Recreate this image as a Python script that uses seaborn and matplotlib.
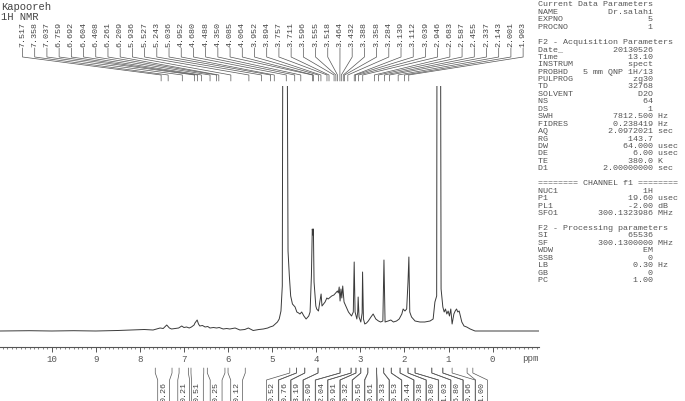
import numpy as np
import pandas as pd
import matplotlib
matplotlib.use("Agg")
import matplotlib.pyplot as plt
import seaborn as sns
from matplotlib.ticker import MultipleLocator
from matplotlib.transforms import blended_transform_factory

# spectrum trace (ppm, intensity)
spec_ppm = [11.17, 10.5, 10.0, 9.5, 9.0, 8.5, 8.2, 7.9, 7.7, 7.62, 7.54, 7.47, 7.39, 7.33, 7.28, 7.20,
            7.12, 7.05, 7.00, 6.94, 6.88, 6.83, 6.77, 6.75, 6.70, 6.67, 6.64, 6.58, 6.52, 6.46, 6.41,
            6.33, 6.26, 6.20, 6.11, 6.03, 5.96, 5.84, 5.73, 5.62, 5.54, 5.43, 5.30, 5.20, 5.10, 5.05,
            4.98, 4.93, 4.88, 4.84, 4.80, 4.77, 4.745, 4.685, 4.64, 4.61, 4.58, 4.54, 4.48, 4.44, 4.40,
            4.37, 4.33, 4.28, 4.23, 4.17, 4.14, 4.11, 4.09, 4.075, 4.065, 4.05, 4.01, 3.99, 3.95, 3.92,
            3.89, 3.87, 3.80, 3.76, 3.73, 3.65, 3.60, 3.58, 3.52, 3.50, 3.48, 3.46, 3.44, 3.42, 3.40,
            3.37, 3.33, 3.27, 3.20, 3.16, 3.14, 3.12, 3.08, 3.06, 3.05, 3.03, 2.99, 2.96, 2.95, 2.93,
            2.90, 2.86, 2.82, 2.76, 2.71, 2.65, 2.59, 2.54, 2.49, 2.465, 2.44, 2.37, 2.31, 2.25, 2.18,
            2.12, 2.06, 2.03, 1.99, 1.95, 1.92, 1.90, 1.88, 1.84, 1.76, 1.65, 1.54, 1.42, 1.35, 1.31,
            1.27, 1.255, 1.195, 1.17, 1.13, 1.10, 1.07, 1.04, 1.01, 0.98, 0.95, 0.92, 0.88, 0.85, 0.82,
            0.79, 0.76, 0.70, 0.65, 0.59, 0.51, 0.40, 0.0, -0.5, -1.05]
spec_int = [0, 0.3, 0, 0.3, 0, 0.5, 1, 1.5, 1, 2, 3, 2.5, 6, 3, 2, 2.5,
            3, 5, 3.5, 4, 3, 4, 6, 8, 11, 7, 5, 5.5, 4, 4.5, 3,
            3.5, 3, 3.5, 2, 2.5, 2, 3, 1, 1.5, 3, 0.5, 1.5, 2, 3, 4,
            5, 7, 9, 12, 20, 45, 600, 600, 80, 55, 35, 27, 24, 19, 18,
            17, 19, 15, 12, 15, 19, 55, 102, 96, 102, 49, 25, 22, 20, 29,
            37, 25, 29, 33, 32, 35, 36, 37, 40, 38, 44, 30, 42, 33, 45,
            29, 25, 19, 15, 19, 69, 19, 12, 19, 34, 14, 9, 18, 59, 12,
            7, 8, 10, 14, 17, 12, 10, 9, 10, 71, 9, 10, 11, 9, 10,
            12, 17, 22, 20, 22, 49, 74, 19, 14, 10, 9, 9, 10, 12, 29,
            35, 600, 600, 42, 24, 19, 22, 17, 20, 15, 22, 7, 17, 20, 22,
            19, 20, 9, 5, 4, 2, 0, 0, 0, 0]

# picked peaks
peak_ppm = [7.517, 7.358, 7.037, 6.759, 6.692, 6.604, 6.408, 6.261, 6.209, 5.936, 5.527, 5.243,
            5.036, 4.952, 4.680, 4.488, 4.350, 4.085, 4.064, 3.952, 3.894, 3.757, 3.711, 3.596,
            3.555, 3.518, 3.464, 3.432, 3.388, 3.358, 3.284, 3.139, 3.112, 3.039, 2.946, 2.683,
            2.587, 2.455, 2.337, 2.143, 2.001, 1.903]

# integral regions
int_start = [7.65, 7.11, 6.84, 6.47, 6.00, 4.60, 4.45, 4.26, 3.96, 3.46, 3.21, 3.10, 2.99,
             2.83, 2.63, 2.47, 2.30, 2.10, 1.92, 1.76, 1.38, 1.13, 0.58]
int_end = [7.27, 6.90, 6.55, 6.07, 5.61, 4.45, 4.26, 3.96, 3.46, 3.21, 3.10, 2.99, 2.83,
           2.63, 2.47, 2.30, 2.10, 1.92, 1.76, 1.38, 1.13, 0.92, 0.45]
int_value = [0.26, 0.21, 0.51, 0.25, 0.12, 0.52, 0.76, 3.19, 5.09, 2.04, 0.91, 0.32, 0.56,
             0.61, 0.33, 0.53, 0.44, 0.38, 0.80, 1.03, 6.80, 0.96, 1.00]

# parameter panel
current_params = [("NAME", "Dr.salahi", ""), ("EXPNO", "5", ""), ("PROCNO", "1", "")]
acq_params = [("Date_", "20130526", ""), ("Time", "13.10", ""), ("INSTRUM", "spect", ""),
              ("PROBHD", "5 mm QNP 1H/13", ""), ("PULPROG", "zg30", ""), ("TD", "32768", ""),
              ("SOLVENT", "D2O", ""), ("NS", "64", ""), ("DS", "1", ""),
              ("SWH", "7812.500", "Hz"), ("FIDRES", "0.238419", "Hz"), ("AQ", "2.0972021", "sec"),
              ("RG", "143.7", ""), ("DW", "64.000", "usec"), ("DE", "6.00", "usec"),
              ("TE", "380.0", "K"), ("D1", "2.00000000", "sec")]
chan_params = [("NUC1", "1H", ""), ("P1", "19.60", "usec"), ("PL1", "-2.00", "dB"),
               ("SFO1", "300.1323986", "MHz")]
proc_params = [("SI", "65536", ""), ("SF", "300.1300000", "MHz"), ("WDW", "EM", ""),
               ("SSB", "0", ""), ("LB", "0.30", "Hz"), ("GB", "0", ""), ("PC", "1.00", "")]

sns.set_theme(style="white")
plt.rcParams["font.family"] = ["Liberation Mono", "DejaVu Sans Mono"]

W, H = 685, 402
fig = plt.figure(figsize=(W / 100, H / 100), dpi=100)


def fy(y):  # pixel row from top -> figure fraction
    return 1 - y / H


ink = "#3a3a3a"
ax = fig.add_axes([0, fy(348), 539 / W, (348 - 87) / H])
df = pd.DataFrame({"ppm": spec_ppm, "intensity": spec_int})
sns.lineplot(data=df, x="ppm", y="intensity", ax=ax, color=ink, lw=0.7, estimator=None)

for s in ["left", "top", "right"]:
    ax.spines[s].set_visible(False)
ax.spines["bottom"].set_color("#555555")
ax.spines["bottom"].set_linewidth(0.8)
ax.set_yticks([])
ax.set_xticks(range(0, 11))
ax.xaxis.set_minor_locator(MultipleLocator(0.1))
ax.tick_params(axis="x", which="both", bottom=True, direction="out", color="#555555")
ax.tick_params(axis="x", which="major", length=3.3, width=0.7, labelsize=6.6, pad=2, labelcolor="#555555")
ax.tick_params(axis="x", which="minor", length=1.5, width=0.5)
ax.set_xlabel("")
ax.set_ylabel("")
fig.text(530 / W, fy(359), "ppm", ha="center", va="center", size=6.6, color="#555555")

trans = blended_transform_factory(ax.transData, fig.transFigure)

# peak labels spread across the top band
lab_x = np.linspace(10.66, -0.69, len(peak_ppm))
for p, lx in zip(peak_ppm, lab_x):
    ax.text(lx, fy(47), f"{p:.3f}", rotation=90, ha="center", va="bottom", transform=trans,
            size=6, color="#444444", clip_on=False)
    ax.plot([lx, lx, p, p], [fy(49), fy(58), fy(76), fy(82)], transform=trans, clip_on=False,
            color="#555555", lw=0.5)

# integral labels: centre under region, spread crowded ones
gap = 12.3 / 44.1
centers = [(a + b) / 2 for a, b in zip(int_start, int_end)]
clusters = [[i] for i in range(len(centers))]


def cl_pos(c):
    mid = np.mean([centers[i] for i in c])
    return [mid + ((len(c) - 1) / 2 - k) * gap for k in range(len(c))]


merged = True
while merged:
    merged = False
    for j in range(len(clusters) - 1):
        if cl_pos(clusters[j])[-1] - cl_pos(clusters[j + 1])[0] < gap:
            clusters[j] = clusters[j] + clusters[j + 1]
            del clusters[j + 1]
            merged = True
            break
lab_pos = [x for c in clusters for x in cl_pos(c)]

hw = gap / 2 - 0.005
for a, b, v, L in zip(int_start, int_end, int_value, lab_pos):
    ax.plot([a, a, L + hw, L + hw], [fy(369), fy(374), fy(381), fy(403)], transform=trans,
            clip_on=False, color="#555555", lw=0.5)
    ax.plot([b, b, L - hw, L - hw], [fy(369), fy(374), fy(381), fy(403)], transform=trans,
            clip_on=False, color="#555555", lw=0.5)
    ax.text(L, fy(382.5), f"{v:.2f}", rotation=90, ha="center", va="top", transform=trans,
            size=6, color="#444444", clip_on=False)

ax.set_xlim(11.17, -1.05)
ax.set_ylim(-16, 245)

# title
fig.text(0.001, fy(7), "Kapooreh", ha="left", va="center", size=7.6, color="#444444")
fig.text(0.001, fy(17.5), "1H NMR", ha="left", va="center", size=7.6, color="#444444")

# parameter panel
lines = ["Current Data Parameters"]
lines += [f"{n:<7}{v:>16} {u}".rstrip() for n, v, u in current_params]
lines += ["", "F2 - Acquisition Parameters"]
lines += [f"{n:<7}{v:>16} {u}".rstrip() for n, v, u in acq_params]
lines += ["", "======== CHANNEL f1 ========"]
lines += [f"{n:<7}{v:>16} {u}".rstrip() for n, v, u in chan_params]
lines += ["", "F2 - Processing parameters"]
lines += [f"{n:<7}{v:>16} {u}".rstrip() for n, v, u in proc_params]
for i, s in enumerate(lines):
    fig.text(538 / W, fy(5 + i * 7.45), s, ha="left", va="center", size=6.0, color="#555555")

fig.savefig("out.png", dpi=100)
